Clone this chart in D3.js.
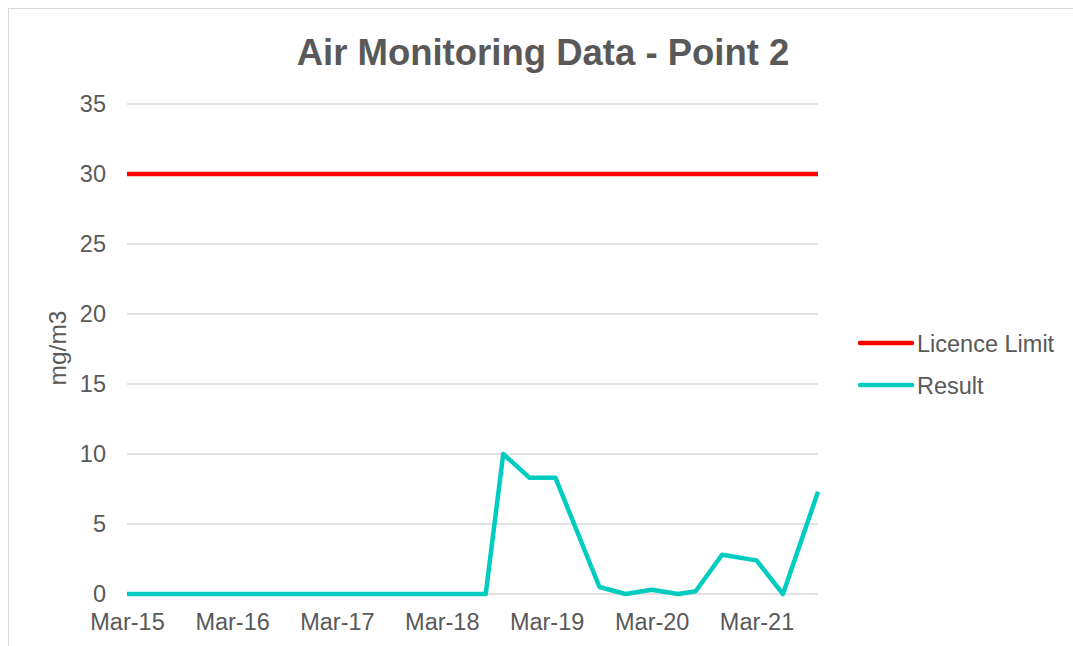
<!DOCTYPE html>
<html><head><meta charset="utf-8">
<script src="https://cdn.jsdelivr.net/npm/d3@7"></script>
<style>body{margin:0;background:#fff;font-family:"Liberation Sans",Arial,sans-serif;}</style>
</head><body>
<svg id="c" width="1073" height="646"></svg>
<script>
const resultDates = ["2015-03","2018-08","2018-10","2019-01","2019-04","2019-09","2019-12","2020-03","2020-06","2020-08","2020-11","2021-03","2021-06","2021-10"];
const resultValues = [0,0,10,8.3,8.3,0.5,0,0.3,0,0.2,2.8,2.4,0,7.3];
const limitDates = ["2015-03","2021-10"];
const limitValues = [30,30];
const xTickLabels = ["Mar-15","Mar-16","Mar-17","Mar-18","Mar-19","Mar-20","Mar-21"];
const yTicks = [0,5,10,15,20,25,30,35];
const seriesNames = ["Licence Limit","Result"];
const seriesColors = ["#FF0000","#00CCC0"];

const parse = d3.timeParse("%Y-%m");
const svg = d3.select("#c");
const grey = "#595959";
const FF = "Liberation Sans, Arial, sans-serif";

svg.append("rect").attr("x",8.5).attr("y",8.5).attr("width",1100).attr("height",700)
  .attr("fill","#fff").attr("stroke","#d9d9d9").attr("stroke-width",1);

const x = d3.scaleTime().domain([parse("2015-03"), parse("2021-10")]).range([127, 818]);
const y = d3.scaleLinear().domain([0,35]).range([594, 104]);

// gridlines
svg.append("g").selectAll("line").data(yTicks).join("line")
  .attr("x1",127).attr("x2",818).attr("y1",d=>y(d)).attr("y2",d=>y(d))
  .attr("stroke","#d9d9d9").attr("stroke-width",1.3);

// y axis labels
const yAxis = d3.axisLeft(y).tickValues(yTicks).tickSize(0).tickPadding(0);
const yg = svg.append("g").attr("transform","translate(106,0)").call(yAxis);
yg.select(".domain").remove();
yg.selectAll("text").attr("font-size",23.5).attr("fill",grey).attr("font-family",FF);

// x axis labels
const xTickDates = xTickLabels.map(s => d3.timeParse("%b-%y")(s));
const xAxis = d3.axisBottom(x).tickValues(xTickDates).tickFormat(d3.timeFormat("%b-%y")).tickSize(0).tickPadding(0);
const xg = svg.append("g").attr("transform","translate(0,613)").call(xAxis);
xg.select(".domain").remove();
xg.selectAll("text").attr("font-size",23.5).attr("fill",grey).attr("font-family",FF);

const line = d3.line().x(d=>x(d[0])).y(d=>y(d[1]));
const limitData = limitDates.map((d,i)=>[parse(d),limitValues[i]]);
const resultData = resultDates.map((d,i)=>[parse(d),resultValues[i]]);
svg.append("path").datum(limitData).attr("d",line).attr("fill","none")
  .attr("stroke",seriesColors[0]).attr("stroke-width",4.5).attr("stroke-linejoin","round");
svg.append("path").datum(resultData).attr("d",line).attr("fill","none")
  .attr("stroke",seriesColors[1]).attr("stroke-width",4.5).attr("stroke-linejoin","round");

// title
svg.append("text").attr("x",543).attr("y",65).attr("text-anchor","middle")
  .attr("font-size",36.5).attr("font-weight","bold").attr("fill",grey).attr("font-family",FF)
  .text("Air Monitoring Data - Point 2");

// y label
svg.append("text").attr("transform","translate(66,348) rotate(-90)").attr("text-anchor","middle")
  .attr("font-size",24.5).attr("fill",grey).attr("font-family",FF).text("mg/m3");

// legend
const lg = svg.append("g");
seriesNames.forEach((n,i)=>{
  const yy = 343 + i*42;
  lg.append("line").attr("x1",860).attr("x2",912).attr("y1",yy).attr("y2",yy)
    .attr("stroke",seriesColors[i]).attr("stroke-width",4.5).attr("stroke-linecap","round");
  lg.append("text").attr("x",917).attr("y",yy+8.5).attr("font-size",23.5).attr("fill",grey)
    .attr("font-family",FF).text(n);
});
</script>
</body></html>
